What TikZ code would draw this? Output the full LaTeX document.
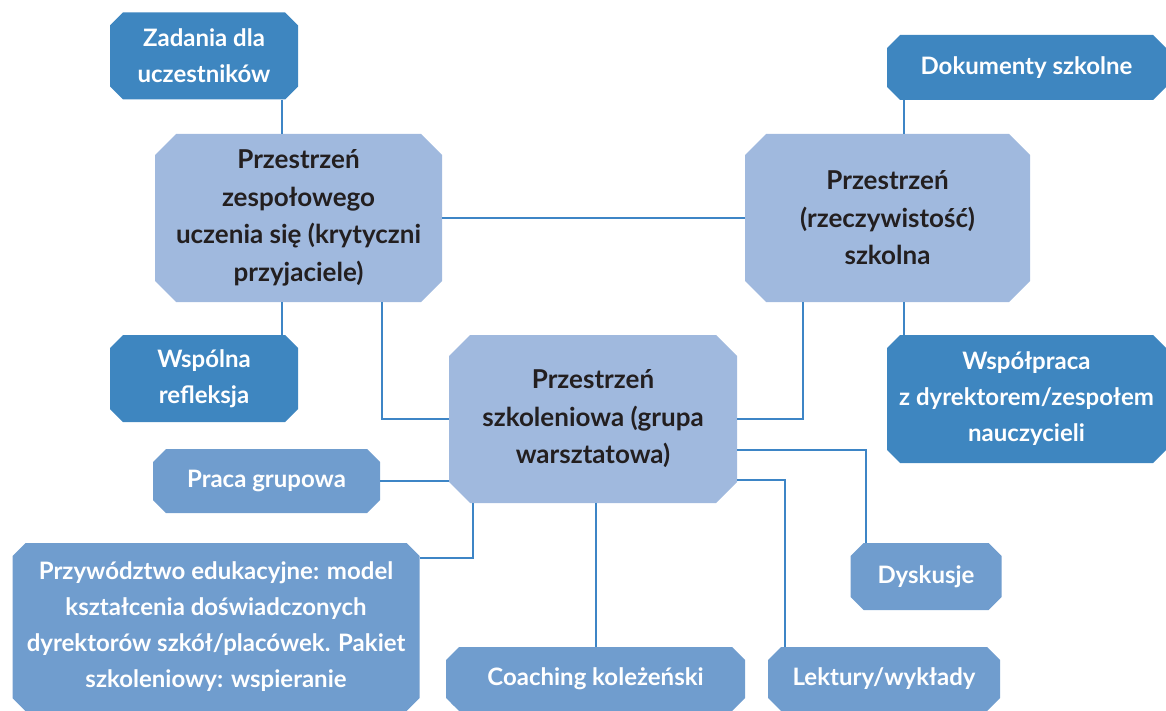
\documentclass[tikz,border=0pt]{standalone}
\usepackage{fontspec}
\setmainfont{Lato}
\usepackage{xcolor}
\usetikzlibrary{shapes.misc}
\definecolor{deep}{HTML}{3E86C0}
\definecolor{mid}{HTML}{709DCE}
\definecolor{pale}{HTML}{A0B9DE}
\definecolor{ink}{HTML}{231F20}
\definecolor{wirec}{HTML}{3D85C6}
\tikzset{
  cell/.style={chamfered rectangle,chamfered rectangle xsep=6.5pt,chamfered rectangle ysep=6.5pt,
               align=center,inner sep=0pt,text=white,
               font=\fontsize{24}{36}\selectfont\bfseries},
  hub/.style={cell,fill=pale,text=ink,chamfered rectangle xsep=10.5pt,chamfered rectangle ysep=10.5pt,
              font=\fontsize{26}{37.5}\selectfont\bfseries},
  leaf/.style={cell,fill=deep},
  task/.style={cell,fill=mid},
  wire/.style={draw=wirec,line width=2pt},
}

\begin{document}
\begin{tikzpicture}[x=1pt,y=-1pt]
\useasboundingbox (0,0) rectangle (1166,711);

% three spaces
\node[hub,minimum width=287pt,minimum height=168pt] (lewa) at (298.5,218)
  {Przestrzeń\\zespołowego\\uczenia się (krytyczni\\przyjaciele)};
\node[hub,minimum width=285pt,minimum height=168pt] (prawa) at (887.5,218)
  {Przestrzeń\\(rzeczywistość)\\szkolna};
\node[hub,minimum width=288pt,minimum height=168pt] (szkol) at (593,419)
  {Przestrzeń\\szkoleniowa (grupa\\warsztatowa)};

% outer boxes
\node[leaf,minimum width=188pt,minimum height=87pt] (zad) at (204,56) {Zadania dla\\uczestników};
\node[leaf,minimum width=188pt,minimum height=87pt] (refl) at (204,378.5) {Wspólna\\refleksja};
\node[leaf,minimum width=279pt,minimum height=65pt] (dok) at (1026.5,67.5) {Dokumenty szkolne};
\node[leaf,minimum width=279pt,minimum height=128pt] (wspol) at (1026.5,399)
  {Współpraca\\z dyrektorem/zespołem\\nauczycieli};

% workshop forms
\node[task,minimum width=227pt,minimum height=64pt] (praca) at (266.5,481) {Praca grupowa};
\node[task,minimum width=407pt,minimum height=168pt] (przyw) at (216,627)
  {Przywództwo edukacyjne: model\\kształcenia doświadczonych\\dyrektorów szkół/placówek. Pakiet\\szkoleniowy: wspieranie};
\node[task,minimum width=299pt,minimum height=64pt] (coach) at (595.5,679) {Coaching koleżeński};
\node[task,minimum width=232pt,minimum height=64pt] (lekt) at (884,679) {Lektury/wykłady};
\node[task,minimum width=151pt,minimum height=67pt] (dysk) at (926,576.5) {Dyskusje};

% links
\draw[wire] ([xshift=78pt]zad.south) -- ([xshift=78pt]zad.south |- lewa.north);
\draw[wire] ([xshift=78pt]refl.north) -- ([xshift=78pt]refl.north |- lewa.south);
\draw[wire] (lewa.east) -- (prawa.west);
\draw[wire] ([xshift=-122.5pt]dok.south) -- ([xshift=-122.5pt]dok.south |- prawa.north);
\draw[wire] ([xshift=-122.5pt]wspol.north) -- ([xshift=-122.5pt]wspol.north |- prawa.south);
\draw[wire] ([xshift=83.5pt]lewa.south) |- (szkol.west);
\draw[wire] ([xshift=-84.5pt]prawa.south) |- (szkol.east);
\draw[wire] (praca.east) -- (praca.east -| szkol.west);
\draw[wire] ([xshift=-120pt]szkol.south) |- ([yshift=69pt]przyw.east);
\draw[wire] ([xshift=2.5pt]szkol.south) -- ([xshift=2.5pt]szkol.south |- coach.north);
\draw[wire] ([yshift=-31pt]szkol.east) -| ([xshift=-60pt]dysk.north);
\draw[wire] ([yshift=-61pt]szkol.east) -| ([xshift=-99pt]lekt.north);
\end{tikzpicture}
\end{document}
